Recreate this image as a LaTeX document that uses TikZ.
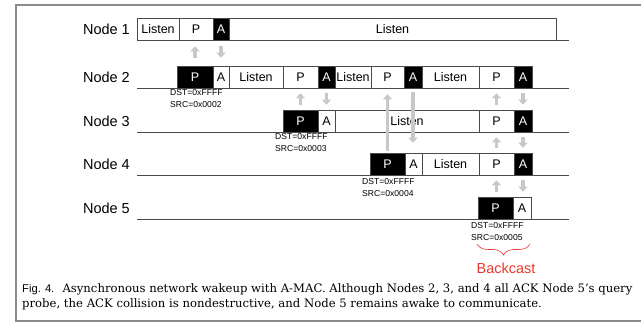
\documentclass[tikz,border=0pt]{standalone}
\usepackage{fontspec}
\setmainfont{DejaVu Serif}
\setsansfont{Liberation Sans}
\usetikzlibrary{arrows.meta,decorations.pathreplacing}

\definecolor{framegrey}{HTML}{8C8C8C}
\definecolor{arrowgrey}{HTML}{C8C8C8}
\definecolor{linegrey}{HTML}{4A4A4A}
\definecolor{castred}{HTML}{E8392D}

% one slot of a node's timeline: name, left x, right x, top y, text
\newcommand\slotat[6][slot]{%
  \node[#1, minimum width={(#4-#3)*1pt}] (#2) at ({(#3+#4)/2},{#5+11}) {#6};}

\begin{document}
\begin{tikzpicture}[x=1pt,y=-1pt,
  slot/.style={draw=linegrey, line width=0.6pt, minimum height=22pt,
    inner sep=0pt, font=\sffamily\fontsize{12.5}{12.5}\selectfont},
  probe/.style={slot, fill=black, text=white},
  rowlabel/.style={anchor=east, inner sep=0pt,
    font=\sffamily\fontsize{14.5}{14.5}\selectfont},
  addr/.style={anchor=north west, inner sep=0pt, align=left,
    font=\sffamily\fontsize{8.6}{11.5}\selectfont},
  timeline/.style={draw=linegrey, line width=0.7pt},
  wake/.style={draw=arrowgrey, line width=3.5pt,
    -{Triangle[width=9pt,length=5pt]}},
  frameline/.style={draw=framegrey, line width=1.8pt}]

\useasboundingbox (0,0) rectangle (641,323);

% frame
\coordinate (ftr) at (641,5);
\coordinate (ftl) at (16,5);
\coordinate (fbl) at (16,321);
\coordinate (fbr) at (641,321);
\draw[frameline] (ftr) -- (ftl) -- (fbl) -- (fbr);

% row labels
\node[rowlabel] (lab1) at (130,29) {Node 1};
\node[rowlabel] (lab2) at (130,77) {Node 2};
\node[rowlabel] (lab3) at (130,121) {Node 3};
\node[rowlabel] (lab4) at (130,164) {Node 4};
\node[rowlabel] (lab5) at (130,208) {Node 5};

% timelines
\foreach \r/\y in {1/40,2/88,3/132,4/175,5/219}{
  \coordinate (t\r s) at (137,\y);
  \coordinate (t\r e) at (569,\y);
  \draw[timeline] (t\r s) -- (t\r e);
}

% Node 1
\slotat{n1l}{137}{179}{18}{Listen}
\slotat{n1p}{179}{213}{18}{P}
\slotat[probe]{n1a}{213}{229}{18}{A}
\slotat{n1w}{229}{556}{18}{Listen}

% Node 2
\slotat[probe]{n2p}{177}{213}{66}{P}
\slotat{n2a}{213}{229}{66}{A}
\slotat{n2l}{229}{283}{66}{Listen}
\slotat{n2pb}{283}{318}{66}{P}
\slotat[probe]{n2ab}{318}{335}{66}{A}
\slotat{n2lb}{335}{371}{66}{Listen}
\slotat{n2pc}{371}{404}{66}{P}
\slotat[probe]{n2ac}{404}{422}{66}{A}
\slotat{n2lc}{422}{479}{66}{Listen}
\slotat{n2pd}{479}{514}{66}{P}
\slotat[probe]{n2ad}{514}{532}{66}{A}
\node[addr] (d2) at (170,89.5) {DST=0xFFFF\\SRC=0x0002};

% Node 3
\slotat[probe]{n3p}{283}{318}{110}{P}
\slotat{n3a}{318}{335}{110}{A}
\slotat{n3l}{335}{479}{110}{Listen}
\slotat{n3pb}{479}{514}{110}{P}
\slotat[probe]{n3ab}{514}{532}{110}{A}
\node[addr] (d3) at (275,133.5) {DST=0xFFFF\\SRC=0x0003};

% Node 4
\slotat[probe]{n4p}{370}{405}{153}{P}
\slotat{n4a}{405}{422}{153}{A}
\slotat{n4l}{422}{479}{153}{Listen}
\slotat{n4pb}{479}{514}{153}{P}
\slotat[probe]{n4ab}{514}{532}{153}{A}
\node[addr] (d4) at (362,178.5) {DST=0xFFFF\\SRC=0x0004};

% Node 5
\slotat[probe]{n5p}{478}{513}{197}{P}
\slotat{n5a}{513}{531}{197}{A}
\node[addr] (d5) at (471,222.5) {DST=0xFFFF\\SRC=0x0005};

% probes up, acknowledgements down
\draw[wake, shorten <=8pt, shorten >=6pt] (n2p.north) -- (n2p.north |- n1p.south);
\draw[wake, shorten <=6pt, shorten >=8pt] (n1a.south -| n2a.north) -- (n2a.north);
\draw[wake, shorten <=5pt, shorten >=5pt] (n3p.north) -- (n3p.north |- n2pb.south);
\draw[wake, shorten <=5pt, shorten >=5pt] (n2ab.south) -- (n2ab.south |- n3a.north);
\draw[wake, shorten <=2pt, shorten >=6pt] (n4p.north) -- (n4p.north |- n2pc.south);
\draw[wake, shorten <=4pt, shorten >=10pt] (n2ac.south) -- (n2ac.south |- n4a.north);
\draw[wake, shorten <=5pt, shorten >=5pt] (n3pb.north) -- (n3pb.north |- n2pd.south);
\draw[wake, shorten <=5pt, shorten >=5pt] (n2ad.south) -- (n2ad.south |- n3ab.north);
\draw[wake, shorten <=5pt, shorten >=5pt] (n4pb.north) -- (n4pb.north |- n3pb.south);
\draw[wake, shorten <=5pt, shorten >=5pt] (n3ab.south) -- (n3ab.south |- n4ab.north);
\draw[wake, shorten <=5pt, shorten >=5pt] (n5p.north -| n4pb.south) -- (n4pb.south);
\draw[wake, shorten <=5pt, shorten >=5pt] (n4ab.south) -- (n4ab.south |- n5a.north);

% backcast brace
\coordinate (bl) at (477,244);
\coordinate (br) at (530,244);
\draw[castred, line width=0.6pt, decorate,
  decoration={brace, mirror, amplitude=11pt}] (bl) -- (br);
\node[inner sep=0pt, text=castred, font=\sffamily\fontsize{14.5}{14.5}\selectfont]
  (bc) at (506,268) {Backcast};

% caption
\node[anchor=north west, inner sep=0pt, align=left,
  font=\fontsize{11.65}{15}\selectfont] (cap) at (22,283)
  {{\sffamily\fontsize{11.2}{15}\selectfont Fig. 4.}\hspace{0.7em}Asynchronous network wakeup with A-MAC. Although Nodes 2, 3, and 4 all ACK Node 5's query\\
   probe, the ACK collision is nondestructive, and Node 5 remains awake to communicate.};

\end{tikzpicture}
\end{document}
